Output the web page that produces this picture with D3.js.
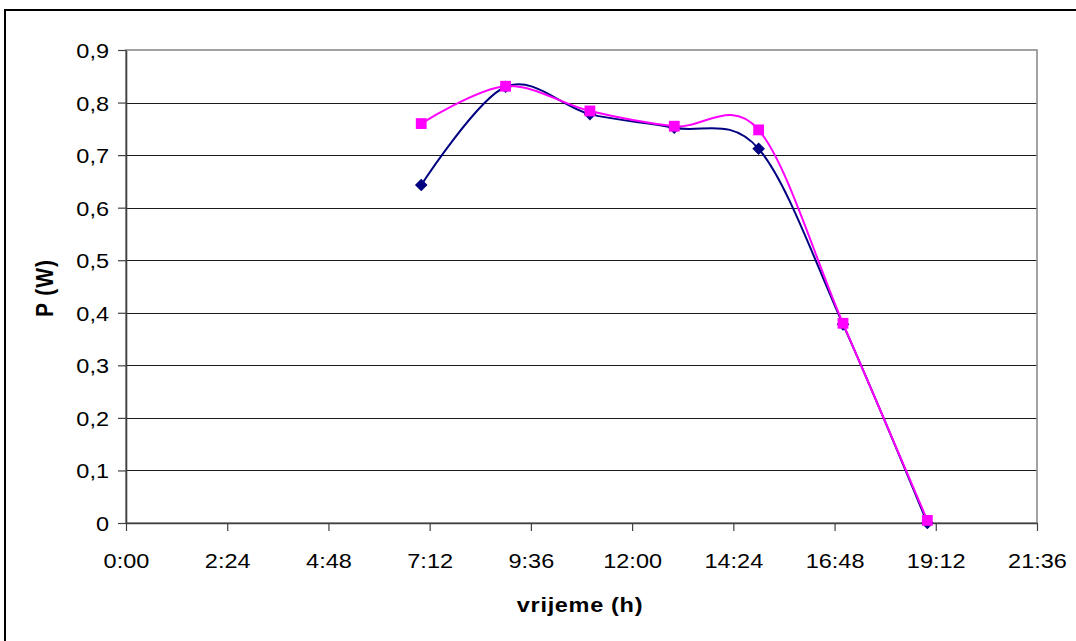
<!DOCTYPE html>
<html>
<head>
<meta charset="utf-8">
<script src="https://cdn.jsdelivr.net/npm/d3@7"></script>
<style>
  html, body { margin: 0; padding: 0; background: #fff; }
  svg { display: block; font-family: "Liberation Sans", Arial, sans-serif; }
</style>
</head>
<body>
<svg id="chart" width="1076" height="641"></svg>
<script>
// ---- data ----
const times = [7, 9, 11, 13, 15, 17, 19];            // hours
const seriesBlue = [0.643, 0.83, 0.778, 0.752, 0.712, 0.378, 0.0];
const seriesPink = [0.76, 0.831, 0.784, 0.755, 0.748, 0.38, 0.005];
const xTicks = [0, 2.4, 4.8, 7.2, 9.6, 12, 14.4, 16.8, 19.2, 21.6];
const yTicks = [0, 0.1, 0.2, 0.3, 0.4, 0.5, 0.6, 0.7, 0.8, 0.9];
const xTitle = "vrijeme (h)";
const yTitle = "P (W)";

(function () {
// ---- layout ----
const svg = d3.select("#chart");
const pLeft = 126, pRight = 1037, pTop = 50, pBottom = 523;
const stretch = 1.12;     // reference text is horizontally stretched
const fs = 21;

const x = d3.scaleLinear().domain([0, 21.6]).range([pLeft, pRight]);
const y = d3.scaleLinear().domain([0, 0.9]).range([pBottom, pTop]);

const fmtTime = h => {
  const mins = Math.round(h * 60);
  return Math.floor(mins / 60) + ":" + String(mins % 60).padStart(2, "0");
};
const fmtNum = v => v === 0 ? "0" : d3.format(".1f")(v).replace(".", ",");

// outer chart border
svg.append("path")
  .attr("d", "M5,641V10H1076")
  .attr("fill", "none").attr("stroke", "#000").attr("stroke-width", 2);

// gridlines
svg.append("g").selectAll("line")
  .data(yTicks.filter(t => t > 0 && t < 0.9))
  .join("line")
  .attr("x1", pLeft).attr("x2", pRight)
  .attr("y1", d => Math.round(y(d)) + 0.5).attr("y2", d => Math.round(y(d)) + 0.5)
  .attr("stroke", "#1a1a1a").attr("stroke-width", 1);

// plot area border
svg.append("rect")
  .attr("x", pLeft).attr("y", pTop)
  .attr("width", pRight - pLeft).attr("height", pBottom - pTop)
  .attr("fill", "none").attr("stroke", "#8c8c8c").attr("stroke-width", 1.6);

// y axis
const yAxis = svg.append("g")
  .attr("transform", `translate(${pLeft},0)`)
  .call(d3.axisLeft(y).tickValues(yTicks).tickFormat(fmtNum).tickSizeOuter(0).tickSizeInner(8).tickPadding(0));
yAxis.select(".domain").attr("stroke", "#404040").attr("stroke-width", 1.6);
yAxis.selectAll(".tick line").attr("stroke", "#404040").attr("stroke-width", 1.2);
yAxis.selectAll(".tick text")
  .attr("x", null).attr("dy", null)
  .attr("font-size", fs).attr("fill", "#000")
  .attr("text-anchor", "end")
  .attr("transform", `translate(-17,7.5) scale(${stretch},1)`);

// x axis
const xAxis = svg.append("g")
  .attr("transform", `translate(0,${pBottom})`)
  .call(d3.axisBottom(x).tickValues(xTicks).tickFormat(fmtTime).tickSizeOuter(0).tickSizeInner(8).tickPadding(0));
xAxis.select(".domain").attr("stroke", "#404040").attr("stroke-width", 1.6);
xAxis.selectAll(".tick line").attr("stroke", "#404040").attr("stroke-width", 1.2);
xAxis.selectAll(".tick text")
  .attr("y", null).attr("dy", null)
  .attr("font-size", fs).attr("fill", "#000")
  .attr("text-anchor", "middle")
  .attr("transform", `translate(0,44.5) scale(${stretch},1)`);

// axis titles
svg.append("text")
  .attr("transform", `translate(580,612) scale(${stretch},1)`)
  .attr("text-anchor", "middle")
  .attr("font-size", fs).attr("font-weight", "bold")
  .attr("letter-spacing", 0.6)
  .text(xTitle);

svg.append("text")
  .attr("transform", `translate(53,288) scale(1.15,1) rotate(-90)`)
  .attr("text-anchor", "middle")
  .attr("font-size", fs).attr("font-weight", "bold")
  .attr("letter-spacing", 1)
  .text(yTitle);

// lines
const line = d3.line()
  .x(d => x(d[0])).y(d => y(d[1]))
  .curve(d3.curveCatmullRom.alpha(0));

const blueData = times.map((t, i) => [t, seriesBlue[i]]);
const pinkData = times.map((t, i) => [t, seriesPink[i]]);

svg.append("path").datum(blueData)
  .attr("d", line).attr("fill", "none")
  .attr("stroke", "#000080").attr("stroke-width", 2);

svg.append("g").selectAll("path")
  .data(blueData).join("path")
  .attr("transform", d => `translate(${x(d[0])},${y(d[1])})`)
  .attr("d", "M0,-6.3L6.3,0L0,6.3L-6.3,0Z")
  .attr("fill", "#000080");

svg.append("path").datum(pinkData)
  .attr("d", line).attr("fill", "none")
  .attr("stroke", "#FF00FF").attr("stroke-width", 2);

svg.append("g").selectAll("rect")
  .data(pinkData).join("rect")
  .attr("x", d => x(d[0]) - 5.4).attr("y", d => y(d[1]) - 5.4)
  .attr("width", 10.8).attr("height", 10.8)
  .attr("fill", "#FF00FF");
})();
</script>
</body>
</html>
